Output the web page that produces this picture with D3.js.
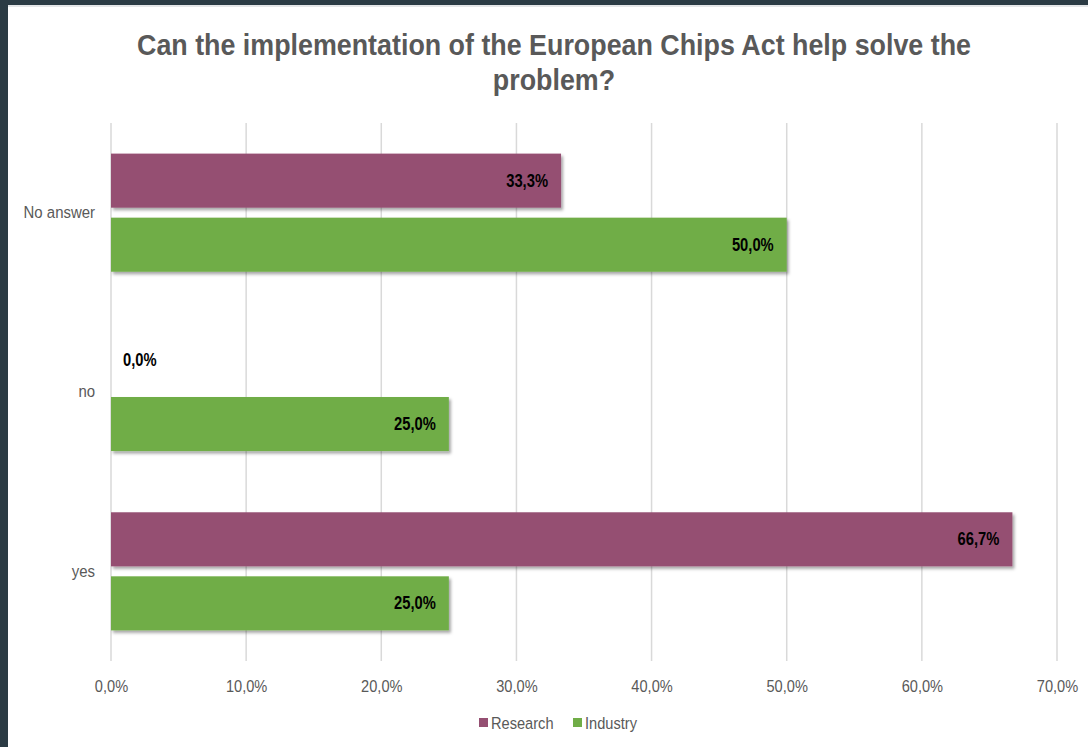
<!DOCTYPE html>
<html>
<head>
<meta charset="utf-8">
<script src="https://cdn.jsdelivr.net/npm/d3@7"></script>
<style>
  html, body { margin: 0; padding: 0; background: #2b3b44; }
  svg { display: block; }
</style>
</head>
<body>
<svg id="chart" width="1088" height="747"></svg>
<script>
// Survey answers by respondent group (percent)
const categories = ["No answer", "no", "yes"];
const seriesNames = ["Research", "Industry"];
const research = [33.3, 0.0, 66.7];
const industry = [50.0, 25.0, 25.0];
const xTicks = [0, 10, 20, 30, 40, 50, 60, 70];
const colors = ["#954f72", "#70ad47"];
const titleLines = ["Can the implementation of the European Chips Act help solve the", "problem?"];

const font = "'Liberation Sans', Arial, sans-serif";
const fmt = v => v.toFixed(1).replace(".", ",") + "%";

// Narrow the glyphs horizontally around each text's own anchor x
function narrow(sel, k) {
  sel.each(function () {
    const t = d3.select(this);
    const ax = +t.attr("x") || 0;
    t.attr("transform", `translate(${ax * (1 - k)},0) scale(${k},1)`);
  });
}

const svg = d3.select("#chart");
const W = 1088, H = 747;

// White card on dark frame
svg.append("rect").attr("x", 8).attr("y", 5).attr("width", W - 8).attr("height", H - 5).attr("fill", "#ffffff");
svg.append("rect").attr("x", 8).attr("y", 5).attr("width", W - 8).attr("height", 2).attr("fill", "#e4e6e8");

const defs = svg.append("defs");
const f = defs.append("filter").attr("id", "shadow").attr("x", "-5%").attr("y", "-20%").attr("width", "110%").attr("height", "150%");
f.append("feDropShadow").attr("dx", 2).attr("dy", 2.5).attr("stdDeviation", 1.8)
  .attr("flood-color", "#000").attr("flood-opacity", 0.35);

const plot = { left: 111, right: 1057, top: 123, bottom: 661 };

const x = d3.scaleLinear().domain([0, 70]).range([plot.left, plot.right]);
const y = d3.scaleBand().domain(categories).range([plot.top, plot.bottom]).paddingInner(0).paddingOuter(0);
const inner = d3.scaleBand().domain(seriesNames).range([0, y.bandwidth()]).paddingInner(0.156).paddingOuter(0.478);

// Title
const title = svg.append("g").selectAll("text").data(titleLines).join("text")
  .attr("x", 554).attr("y", (d, i) => 55 + i * 35)
  .attr("text-anchor", "middle")
  .attr("font-family", font).attr("font-weight", "bold").attr("font-size", 30)
  .attr("fill", "#595959")
  .text(d => d);
narrow(title, 0.895);

// Vertical gridlines
svg.append("g").selectAll("line").data(xTicks).join("line")
  .attr("x1", d => x(d)).attr("x2", d => x(d))
  .attr("y1", plot.top).attr("y2", plot.bottom)
  .attr("stroke", "#d9d9d9").attr("stroke-width", 1.5);

// X axis labels
const xAxis = d3.axisBottom(x).tickValues(xTicks).tickSize(0).tickPadding(0).tickFormat(fmt);
const gx = svg.append("g").attr("transform", `translate(0,${plot.bottom + 19})`).call(xAxis);
gx.select(".domain").remove();
gx.selectAll("text").attr("font-family", font).attr("font-size", 17).attr("fill", "#595959");
narrow(gx.selectAll("text"), 0.86);

// Category labels
const yAxis = d3.axisLeft(y).tickSize(0).tickPadding(16);
const gy = svg.append("g").attr("transform", `translate(${plot.left},0)`).call(yAxis);
gy.select(".domain").remove();
gy.selectAll("text").attr("font-family", font).attr("font-size", 17).attr("fill", "#595959");
narrow(gy.selectAll("text"), 0.88);

// Bars
const rows = categories.map((c, i) => ({ cat: c, values: [research[i], industry[i]] }));
const groups = svg.append("g").selectAll("g").data(rows).join("g")
  .attr("transform", d => `translate(0,${y(d.cat)})`);

const bars = groups.selectAll("g.bar").data(d => d.values.map((v, j) => ({ v, s: seriesNames[j], j })))
  .join("g").attr("class", "bar");

bars.filter(d => d.v > 0).append("rect")
  .attr("x", x(0)).attr("y", d => inner(d.s))
  .attr("width", d => x(d.v) - x(0)).attr("height", inner.bandwidth())
  .attr("fill", d => colors[d.j])
  .attr("filter", "url(#shadow)");

const labels = bars.append("text")
  .attr("x", d => d.v > 0 ? x(d.v) - 13 : x(0) + 12)
  .attr("y", d => inner(d.s) + inner.bandwidth() / 2 + 6)
  .attr("text-anchor", d => d.v > 0 ? "end" : "start")
  .attr("font-family", font).attr("font-weight", "bold").attr("font-size", 18)
  .attr("fill", "#000")
  .text(d => fmt(d.v));
narrow(labels, 0.82);

// Legend
const legend = svg.append("g").attr("transform", "translate(479,723)");
const items = legend.selectAll("g").data(seriesNames).join("g")
  .attr("transform", (d, i) => `translate(${i * 94},0)`);
items.append("rect").attr("x", 0).attr("y", -5).attr("width", 9).attr("height", 9)
  .attr("fill", (d, i) => colors[i]);
const legText = items.append("text").attr("x", 12).attr("y", 6)
  .attr("font-family", font).attr("font-size", 17).attr("fill", "#595959")
  .text(d => d);
narrow(legText, 0.86);
</script>
</body>
</html>
